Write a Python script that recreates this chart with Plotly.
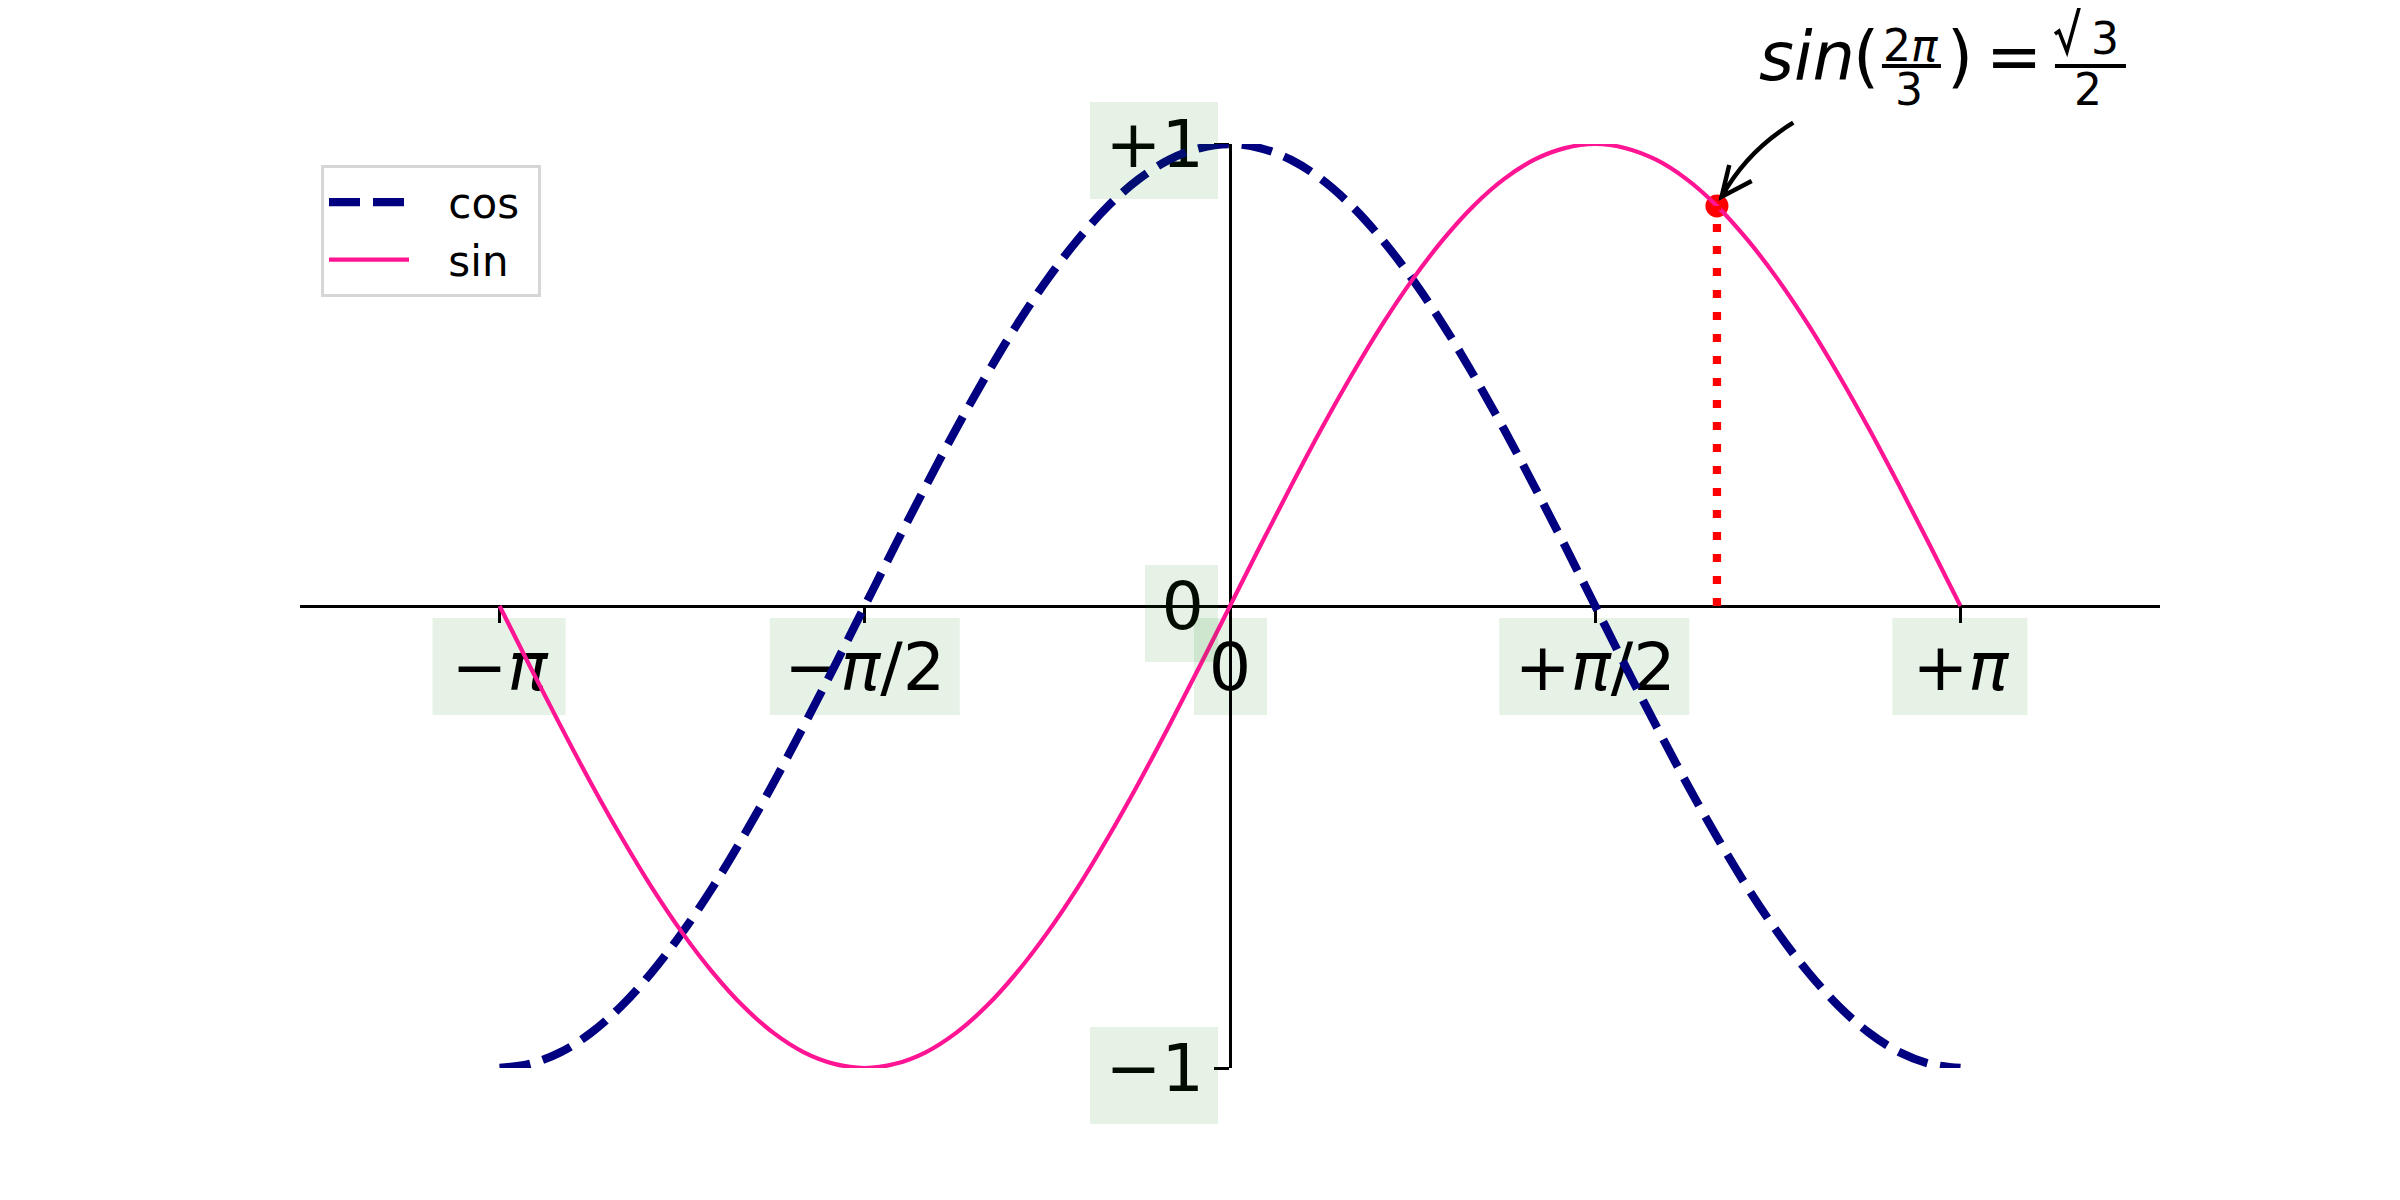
import plotly.graph_objects as go

# ---------------- data ----------------
X = [-3.1416, -3.0107, -2.8798, -2.7489, -2.6180, -2.4871, -2.3562, -2.2253, -2.0944,
     -1.9635, -1.8326, -1.7017, -1.5708, -1.4399, -1.3090, -1.1781, -1.0472, -0.9163,
     -0.7854, -0.6545, -0.5236, -0.3927, -0.2618, -0.1309, 0.0, 0.1309, 0.2618, 0.3927,
     0.5236, 0.6545, 0.7854, 0.9163, 1.0472, 1.1781, 1.3090, 1.4399, 1.5708, 1.7017,
     1.8326, 1.9635, 2.0944, 2.2253, 2.3562, 2.4871, 2.6180, 2.7489, 2.8798, 3.0107, 3.1416]
COS = [-1.000, -0.991, -0.966, -0.924, -0.866, -0.793, -0.707, -0.609, -0.500, -0.383,
       -0.259, -0.131, 0.000, 0.131, 0.259, 0.383, 0.500, 0.609, 0.707, 0.793, 0.866,
       0.924, 0.966, 0.991, 1.000, 0.991, 0.966, 0.924, 0.866, 0.793, 0.707, 0.609,
       0.500, 0.383, 0.259, 0.131, 0.000, -0.131, -0.259, -0.383, -0.500, -0.609,
       -0.707, -0.793, -0.866, -0.924, -0.966, -0.991, -1.000]
SIN = [0.000, -0.131, -0.259, -0.383, -0.500, -0.609, -0.707, -0.793, -0.866, -0.924,
       -0.966, -0.991, -1.000, -0.991, -0.966, -0.924, -0.866, -0.793, -0.707, -0.609,
       -0.500, -0.383, -0.259, -0.131, 0.000, 0.131, 0.259, 0.383, 0.500, 0.609, 0.707,
       0.793, 0.866, 0.924, 0.966, 0.991, 1.000, 0.991, 0.966, 0.924, 0.866, 0.793,
       0.707, 0.609, 0.500, 0.383, 0.259, 0.131, 0.000]
SERIES_NAMES = ["cos", "sin"]

XTICK_VALS = [-3.1416, -1.5708, 0.0, 1.5708, 3.1416]
XTICK_TEXT = ["−<i>π</i>", "−<i>π</i>/2", "0", "+<i>π</i>/2", "+<i>π</i>"]
YTICK_VALS = [-1, 0, 1]
YTICK_TEXT = ["−1", "0", "+1"]

POINT_X = 2.0944   # 2π/3
POINT_Y = 0.866    # sin(2π/3)

# annotation: sin(2π/3) = √3/2  (radical sign drawn as a stroke below)
FORMULA_TEXT = ["<i>sin</i>", "(", "2<i>π</i>", "3", ")", "=", "3", "2"]

# ---------------- styles / layout ----------------
FONT = "DejaVu Sans"
# page body has an 8px margin: the figure is sized/offset so the plot area lands at
# x 300-2160, y 144-1068 of the 2400x1200 window
W, H = 2384, 1184
ML, MR, MT, MB = 292, 232, 136, 124
COS_COLOR = "#000080"
SIN_COLOR = "#ff1493"
BOX_FILL = "rgba(0,128,0,0.1)"
LEGEND_LEAD = "\u2002\u00a0"
LEGEND_TRAIL = "\u00a0"

# formula piece placement: (font size, dx, dy) pixels relative to the annotated point
FORMULA_POS = [(67, 90, 149), (67, 149, 149), (44, 194, 160), (44, 192.5, 116.5),
               (67, 243, 149), (67, 297, 149), (44, 388, 167), (44, 371.5, 116.5)]
# x-label background half widths, y-label background widths / y shifts
XBOX_HALF = [(67, 66), (95, 95), (36, 37), (96, 94), (68, 67)]
YBOX = [(128, -7), (73, -7), (128, -6)]

fig = go.Figure()

# annotated point (drawn beneath the curves)
fig.add_trace(go.Scatter(x=[POINT_X], y=[POINT_Y], mode="markers",
                         marker=dict(color="red", size=23, line=dict(width=0)),
                         showlegend=False, hoverinfo="skip"))
fig.add_trace(go.Scatter(x=X, y=COS, mode="lines",
                         name=LEGEND_LEAD + SERIES_NAMES[0] + LEGEND_TRAIL,
                         line=dict(color=COS_COLOR, width=8.3, dash="31px,13px", shape="spline"),
                         hoverinfo="skip"))
fig.add_trace(go.Scatter(x=X, y=SIN, mode="lines",
                         name=LEGEND_LEAD + SERIES_NAMES[1] + LEGEND_TRAIL,
                         line=dict(color=SIN_COLOR, width=4.2, shape="spline"),
                         hoverinfo="skip"))
fig.add_trace(go.Scatter(x=[POINT_X, POINT_X], y=[0, POINT_Y], mode="lines",
                         line=dict(color="red", width=8.3, dash="8px,14px"),
                         showlegend=False, hoverinfo="skip"))

# tick label background boxes (x axis: shapes beneath the curves)
for xv, (l, r) in zip(XTICK_VALS, XBOX_HALF):
    fig.add_shape(type="rect", xref="x", yref="paper", xsizemode="pixel", ysizemode="pixel",
                  xanchor=xv, yanchor=0.5, x0=-l, x1=r, y0=-109, y1=-12,
                  fillcolor=BOX_FILL, line=dict(width=0), layer="below")
for yv, (bw, ys) in zip(YTICK_VALS, YBOX):
    fig.add_annotation(x=0, y=yv, xref="x", yref="y", text=" ", showarrow=False,
                       xanchor="right", yanchor="middle", xshift=-12, yshift=ys,
                       width=bw, height=97, borderpad=0, borderwidth=0, bgcolor=BOX_FILL)

# formula text
for txt, (fs, dx, dy) in zip(FORMULA_TEXT, FORMULA_POS):
    fig.add_annotation(x=POINT_X, y=POINT_Y, xref="x", yref="y", text=txt, showarrow=False,
                       xanchor="center", yanchor="middle", xshift=dx, yshift=dy,
                       font=dict(family=FONT, size=fs, color="black"), borderpad=0)

# fraction bars, radical sign and curved arrow (pixel offsets from top of plot area)
for x0, x1, ymid in [(165, 224, 78), (338, 409, 78)]:
    fig.add_shape(type="rect", xref="x", yref="paper", xsizemode="pixel", ysizemode="pixel",
                  xanchor=POINT_X, yanchor=1, x0=x0, x1=x1, y0=ymid - 2, y1=ymid + 2,
                  fillcolor="black", line=dict(width=0), layer="above")
fig.add_shape(type="path", xref="x", yref="paper", xsizemode="pixel", ysizemode="pixel",
              xanchor=POINT_X, yanchor=1,
              path="M338,110 L342,113 L350,92.5 L363.5,141.3 L409,141.3",
              line=dict(color="black", width=3.6), layer="above")
fig.add_shape(type="path", xref="x", yref="paper", xsizemode="pixel", ysizemode="pixel",
              xanchor=POINT_X, yanchor=1,
              path="M76.3,21.3 Q30,-7 4.7,-52.7 M12.3,-21 L4.7,-52.7 L34.7,-37",
              line=dict(color="black", width=4.5), layer="above")

axis_common = dict(showline=True, linecolor="black", linewidth=3.3, ticks="outside",
                   ticklen=14.6, tickwidth=3.3, tickcolor="black", showgrid=False,
                   zeroline=False, layer="below traces", anchor="free", position=0.5,
                   tickfont=dict(family=FONT, size=66.7, color="black"))

fig.update_layout(
    width=W, height=H,
    margin=dict(l=ML, r=MR, t=MT, b=MB, pad=0),
    paper_bgcolor="white", plot_bgcolor="rgba(0,0,0,0)",
    font=dict(family=FONT, color="black"),
    hovermode=False,
    xaxis=dict(range=[-4, 4], tickvals=XTICK_VALS, ticktext=XTICK_TEXT,
               ticklabelstandoff=-13, **axis_common),
    yaxis=dict(range=[-1, 1], tickvals=YTICK_VALS, ticktext=YTICK_TEXT,
               ticklabelstandoff=-3, **axis_common),
    legend=dict(x=0.0113, y=0.977, xanchor="left", yanchor="top",
                bgcolor="rgba(255,255,255,0.8)", bordercolor="#d6d6d6", borderwidth=3,
                font=dict(family=FONT, size=42, color="black"), itemwidth=80),
)

fig.write_html("out.html")
